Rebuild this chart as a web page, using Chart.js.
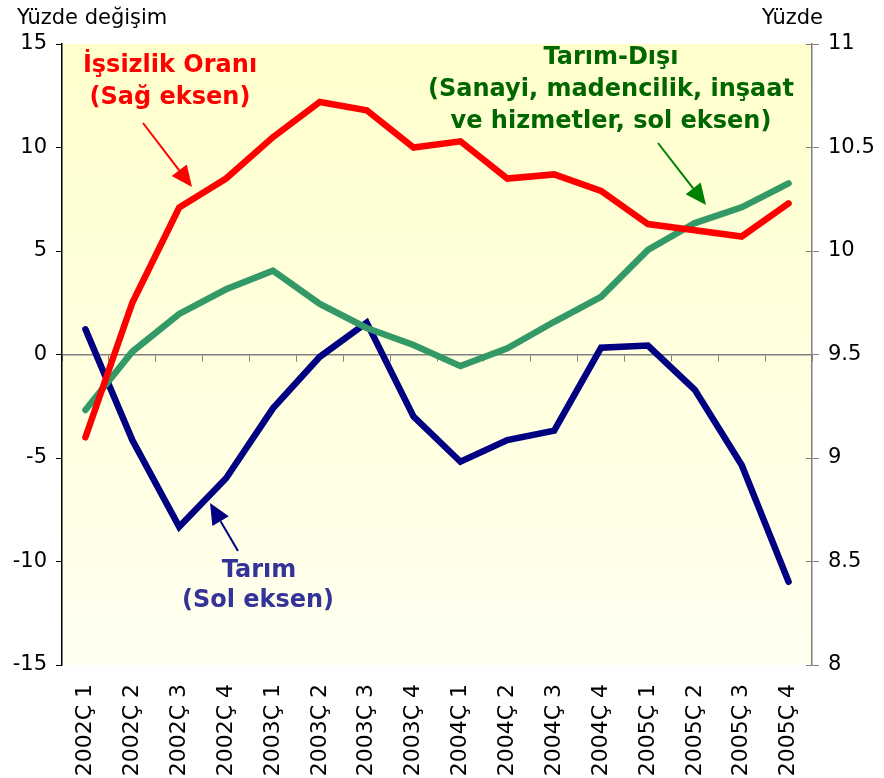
<!DOCTYPE html>
<html><head><meta charset="utf-8">
<script src="https://cdn.jsdelivr.net/npm/chart.js@4"></script>
<style>html,body{margin:0;padding:0;background:#fff;overflow:hidden}canvas{display:block}</style>
</head><body>
<canvas id="c" width="884" height="778"></canvas>
<script>
const categories = ['2002Ç 1','2002Ç 2','2002Ç 3','2002Ç 4','2003Ç 1','2003Ç 2','2003Ç 3','2003Ç 4',
                    '2004Ç 1','2004Ç 2','2004Ç 3','2004Ç 4','2005Ç 1','2005Ç 2','2005Ç 3','2005Ç 4'];
const tarim     = [1.22,-4.13,-8.32,-5.98,-2.60,-0.11,1.54,-3.00,-5.18,-4.13,-3.68,0.33,0.43,-1.71,-5.34,-10.98];
const tarimDisi = [-2.68,0.14,1.96,3.15,4.05,2.44,1.28,0.46,-0.56,0.30,1.58,2.79,5.05,6.35,7.11,8.27];
const issizlik  = [9.10,9.75,10.21,10.35,10.55,10.72,10.68,10.50,10.53,10.35,10.37,10.29,10.13,10.10,10.07,10.23];
const leftTicks  = [-15,-10,-5,0,5,10,15];
const rightTicks = [8,8.5,9,9.5,10,10.5,11];

Chart.defaults.font.family = 'DejaVu Sans';
Chart.defaults.font.size = 21;
Chart.defaults.color = '#000';

const bgPlugin = {
  id: 'bg',
  beforeDraw(chart) {
    const {ctx, chartArea: a} = chart;
    const g = ctx.createLinearGradient(0, a.top, 0, a.bottom);
    g.addColorStop(0, '#FFFFCC');
    g.addColorStop(1, '#FFFFF0');
    ctx.save(); ctx.fillStyle = g;
    ctx.fillRect(a.left, a.top, a.right - a.left, a.bottom - a.top);
    ctx.restore();
  }
};

function arrow(ctx, x1, y1, x2, y2, color, lw, hl, hw) {
  const ang = Math.atan2(y2 - y1, x2 - x1);
  const bx = x2 - hl * Math.cos(ang), by = y2 - hl * Math.sin(ang);
  ctx.save();
  ctx.strokeStyle = color; ctx.fillStyle = color; ctx.lineWidth = lw;
  ctx.beginPath(); ctx.moveTo(x1, y1); ctx.lineTo(bx, by); ctx.stroke();
  ctx.beginPath();
  ctx.moveTo(x2, y2);
  ctx.lineTo(bx + hw / 2 * Math.sin(ang), by - hw / 2 * Math.cos(ang));
  ctx.lineTo(bx - hw / 2 * Math.sin(ang), by + hw / 2 * Math.cos(ang));
  ctx.closePath(); ctx.fill();
  ctx.restore();
}

const annoPlugin = {
  id: 'anno',
  afterDraw(chart) {
    const ctx = chart.ctx;
    ctx.save();
    ctx.textBaseline = 'middle';
    ctx.font = '21px "DejaVu Sans"';
    ctx.fillStyle = '#000';
    ctx.textAlign = 'left';
    ctx.fillText('Yüzde değişim', 17, 19);
    ctx.fillText('Yüzde', 762, 19);

    ctx.font = 'bold 24px "DejaVu Sans"';
    ctx.textAlign = 'center';
    ctx.fillStyle = '#FF0000';
    ctx.fillText('İşsizlik Oranı', 170, 66);
    ctx.fillText('(Sağ eksen)', 170, 98);

    ctx.fillStyle = '#006600';
    ctx.fillText('Tarım-Dışı', 611, 58);
    ctx.fillText('(Sanayi, madencilik, inşaat', 611, 90);
    ctx.fillText('ve hizmetler, sol eksen)', 611, 122);

    ctx.fillStyle = '#333399';
    ctx.fillText('Tarım', 259, 571);
    ctx.fillText('(Sol eksen)', 258, 601);
    ctx.restore();

    arrow(ctx, 143, 123, 192, 187, '#FF0000', 2, 21, 19);
    arrow(ctx, 658, 143, 706, 205, '#008000', 2, 21, 19);
    arrow(ctx, 238, 551, 210, 503, '#000080', 2, 21, 19);
  }
};

new Chart(document.getElementById('c'), {
  type: 'line',
  data: {
    labels: categories,
    datasets: [
      { label: 'İşsizlik Oranı', data: issizlik, yAxisID: 'y1', borderColor: '#FF0000', order: 1 },
      { label: 'Tarım-Dışı', data: tarimDisi, yAxisID: 'y', borderColor: '#339966', order: 2 },
      { label: 'Tarım', data: tarim, yAxisID: 'y', borderColor: '#000080', order: 3 }
    ]
  },
  options: {
    responsive: false,
    animation: false,
    devicePixelRatio: 1,
    layout: { padding: { top: 44, left: 0, right: 0, bottom: 0 } },
    elements: {
      line: { borderWidth: 6.5, tension: 0, borderCapStyle: 'round', borderJoinStyle: 'miter' },
      point: { radius: 0, hoverRadius: 0 }
    },
    plugins: { legend: { display: false }, tooltip: { enabled: false } },
    scales: {
      x: {
        type: 'category', position: 'bottom', offset: true,
        grid: { display: false, drawTicks: false },
        border: { display: false },
        ticks: { autoSkip: false, minRotation: 90, maxRotation: 90, padding: 19, font: { size: 22 } },
        afterFit(s) { s.height = 113; }
      },
      x2: {
        type: 'category', axis: 'x', labels: categories, position: { y: 0 }, offset: true,
        grid: { offset: true, drawOnChartArea: false, drawTicks: true, tickLength: 6, color: '#808080', lineWidth: 1 },
        border: { display: true, color: '#808080', width: 1.5 },
        ticks: { display: false }
      },
      y: {
        type: 'linear', position: 'left', min: -15, max: 15,
        afterBuildTicks(s) { s.ticks = leftTicks.map(v => ({ value: v })); },
        grid: { drawOnChartArea: false, drawTicks: true, tickLength: 6, color: '#000' },
        border: { display: true, color: '#000', width: 1.5 },
        ticks: { padding: 9, callback: v => String(v), font: { size: 21 } },
        afterFit(s) { s.width = 62; }
      },
      y1: {
        type: 'linear', position: 'right', min: 8, max: 11,
        afterBuildTicks(s) { s.ticks = rightTicks.map(v => ({ value: v })); },
        grid: { drawOnChartArea: false, drawTicks: true, tickLength: 7, color: '#808080' },
        border: { display: true, color: '#808080', width: 1.5 },
        ticks: { padding: 9, callback: v => String(v), font: { size: 21 } },
        afterFit(s) { s.width = 72; }
      },
      y3: {
        type: 'linear', axis: 'y', position: { x: 15.5 }, min: 8, max: 11,
        afterBuildTicks(s) { s.ticks = rightTicks.map(v => ({ value: v })); },
        grid: { drawOnChartArea: false, drawTicks: true, tickLength: 6, color: '#808080' },
        border: { display: false },
        ticks: { display: false }
      }
    }
  },
  plugins: [bgPlugin, annoPlugin]
});
</script>
</body></html>
